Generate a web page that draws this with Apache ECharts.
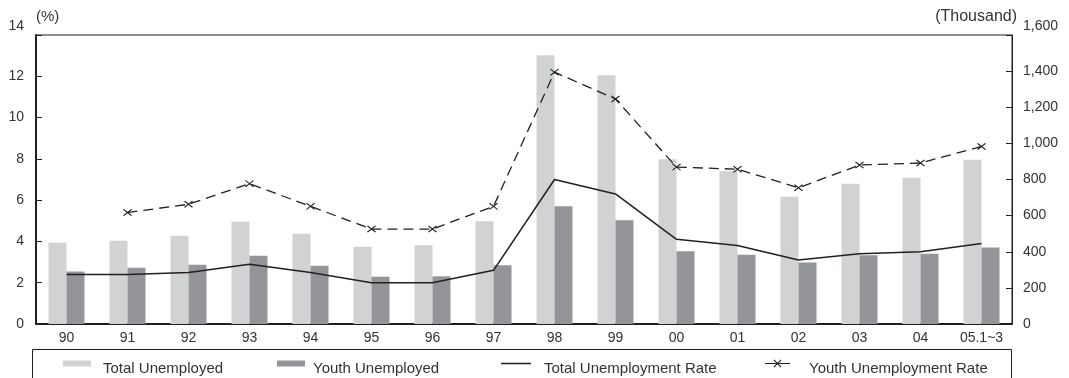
<!DOCTYPE html>
<html>
<head>
<meta charset="utf-8">
<title>Unemployment</title>
<script src="https://cdn.jsdelivr.net/npm/echarts@6/dist/echarts.min.js"></script>
<style>
  html, body { margin: 0; padding: 0; background: #ffffff; }
  #chart { width: 1069px; height: 378px; }
</style>
</head>
<body>
<div id="chart"></div>
<script>
// Categories (year, 2005 = Jan~Mar)
const categories = ['90', '91', '92', '93', '94', '95', '96', '97', '98', '99', '00', '01', '02', '03', '04', '05.1~3'];

// Number of unemployed, thousand persons (right axis)
const totalUnemployed = [450, 461, 489, 566, 500, 428, 436, 569, 1488, 1377, 912, 845, 705, 777, 810, 910];
const youthUnemployed = [290, 312, 328, 378, 323, 262, 264, 325, 652, 574, 403, 384, 340, 380, 389, 423];

// Unemployment rates, % (left axis)
const totalRate = [2.4, 2.4, 2.5, 2.9, 2.5, 2.0, 2.0, 2.6, 7.0, 6.3, 4.1, 3.8, 3.1, 3.4, 3.5, 3.9];
const youthRate = [null, 5.4, 5.8, 6.8, 5.7, 4.6, 4.6, 5.7, 12.2, 10.9, 7.6, 7.5, 6.6, 7.7, 7.8, 8.6];

// Axis tick settings
const rateTicks = { min: 0, max: 14, interval: 2 };
const countTicks = { min: 0, max: 1600, interval: 200 };

const INK = '#231f20';
const TEXT = '#333333';
const FONT = '"Liberation Sans", Arial, sans-serif';
const LIGHT = '#d1d2d4';
const DARK = '#939598';

// "x" cross marker drawn as a filled outline
const CROSS = 'path://M0,1 L1,0 L10,9 L9,10 Z M9,0 L10,1 L1,10 L0,9 Z';
// legend keys for the two rate lines
const LINE_KEY = 'path://M0,0 L30,0 L30,1.5 L0,1.5 Z';
const CROSS_KEY = 'path://M0,3.5 L25,3.5 L25,4.6 L0,4.6 Z ' +
  'M8.5,0.8 L9.3,0 L16.5,7.2 L15.7,8 Z M15.7,0 L16.5,0.8 L9.3,8 L8.5,7.2 Z';

const chart = echarts.init(document.getElementById('chart'), null, { renderer: 'canvas' });

// one legend per entry so each key sits at its own spot;
// the leading blank line drops the label a little below its key
function legendAt(left, name, icon, iconW, iconH, padLeft) {
  return {
    data: [{ name: name, icon: icon }],
    left: left,
    top: 351,
    padding: 0,
    itemWidth: iconW,
    itemHeight: iconH,
    selectedMode: false,
    formatter: n => '\n' + n,
    textStyle: { fontFamily: FONT, fontSize: 15, color: TEXT, lineHeight: 10, padding: [0, 0, 0, padLeft] }
  };
}

// max tick label sits a little above its tick
function topLifted(text, isMax) {
  return isMax ? text + '\n ' : text;
}

const option = {
  animation: false,
  backgroundColor: '#ffffff',
  grid: {
    left: 36, right: 57, top: 35, bottom: 54,
    show: true, borderColor: INK, borderWidth: 1, backgroundColor: 'transparent'
  },
  legend: [
    legendAt(63, 'Total Unemployed', 'rect', 28, 6, 7),
    legendAt(277, 'Youth Unemployed', 'rect', 28, 6, 3),
    legendAt(501, 'Total Unemployment Rate', LINE_KEY, 30, 1.5, 8),
    legendAt(765, 'Youth Unemployment Rate', CROSS_KEY, 25, 8, 14)
  ],
  graphic: [{
    type: 'rect',
    shape: { x: 32.5, y: 349.5, width: 979, height: 40 },
    style: { fill: 'none', stroke: INK, lineWidth: 1 },
    silent: true
  }],
  xAxis: {
    type: 'category',
    data: categories,
    boundaryGap: true,
    axisLine: { lineStyle: { color: INK, width: 2 } },
    axisTick: { inside: true, length: 5, lineStyle: { color: INK, width: 1 } },
    axisLabel: { margin: 7, fontFamily: FONT, fontSize: 14, color: TEXT, interval: 0 },
    splitLine: { show: false }
  },
  yAxis: [
    {
      type: 'value',
      position: 'left',
      min: rateTicks.min, max: rateTicks.max, interval: rateTicks.interval,
      name: '(%)',
      nameLocation: 'end',
      nameGap: 18,
      nameTextStyle: { fontFamily: FONT, fontSize: 15, color: TEXT, align: 'left', verticalAlign: 'middle' },
      axisLine: { show: true, lineStyle: { color: INK, width: 2 } },
      axisTick: { show: true, inside: true, length: 6, lineStyle: { color: INK } },
      axisLabel: {
        margin: 12, fontFamily: FONT, fontSize: 14, color: TEXT, lineHeight: 17,
        formatter: v => topLifted(String(v), v === rateTicks.max)
      },
      splitLine: { show: false }
    },
    {
      type: 'value',
      position: 'right',
      min: countTicks.min, max: countTicks.max, interval: countTicks.interval,
      name: '(Thousand)',
      nameLocation: 'end',
      nameGap: 18,
      nameTextStyle: { fontFamily: FONT, fontSize: 16, color: TEXT, align: 'right', verticalAlign: 'middle', padding: [0, -5, 0, 0] },
      axisLine: { show: true, lineStyle: { color: INK, width: 1 } },
      axisTick: { show: true, inside: true, length: 6, lineStyle: { color: INK } },
      axisLabel: {
        margin: 11, fontFamily: FONT, fontSize: 14, color: TEXT, lineHeight: 17,
        formatter: v => topLifted(v.toLocaleString('en-US'), v === countTicks.max)
      },
      splitLine: { show: false }
    }
  ],
  series: [
    {
      name: 'Total Unemployed',
      type: 'bar',
      yAxisIndex: 1,
      data: totalUnemployed,
      barWidth: 18,
      barGap: '0%',
      itemStyle: { color: LIGHT },
      z: 2
    },
    {
      name: 'Youth Unemployed',
      type: 'bar',
      yAxisIndex: 1,
      data: youthUnemployed,
      barWidth: 18,
      barGap: '0%',
      itemStyle: { color: DARK },
      z: 2
    },
    {
      name: 'Total Unemployment Rate',
      type: 'line',
      yAxisIndex: 0,
      data: totalRate,
      symbol: 'none',
      lineStyle: { color: INK, width: 1.5 },
      itemStyle: { color: INK },
      z: 4
    },
    {
      name: 'Youth Unemployment Rate',
      type: 'line',
      yAxisIndex: 0,
      data: youthRate,
      connectNulls: false,
      symbol: CROSS,
      symbolSize: [9, 7],
      showAllSymbol: true,
      lineStyle: { color: INK, width: 1.3, type: [10, 6] },
      itemStyle: { color: INK },
      z: 4
    }
  ]
};

chart.setOption(option);
</script>
</body>
</html>
